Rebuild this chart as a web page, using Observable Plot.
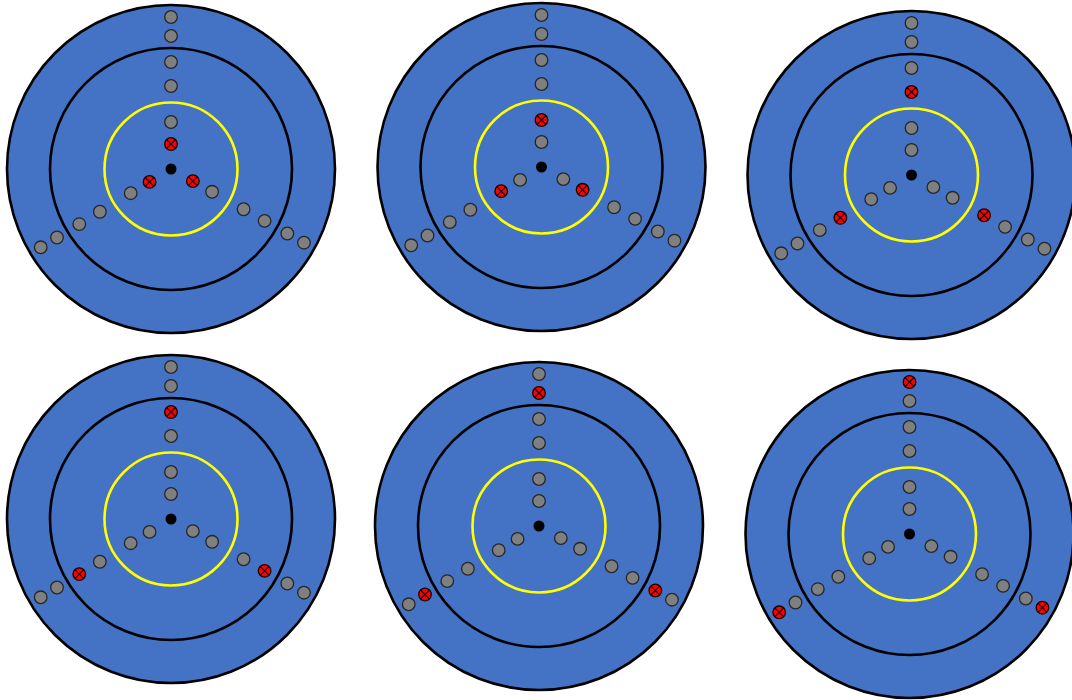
<!DOCTYPE html>
<html>
<head>
<meta charset="utf-8">
<script src="https://cdn.jsdelivr.net/npm/d3@7"></script>
<script src="https://cdn.jsdelivr.net/npm/@observablehq/plot@0.6"></script>
<style>
  html, body { margin: 0; padding: 0; background: #ffffff; }
  svg { display: block; }
</style>
</head>
<body>
<div id="chart"></div>
<script>
// Six panels (3 columns x 2 rows): centre of each target
const panelIds = [1, 2, 3, 4, 5, 6];
const panelCX = [170.5, 541, 911, 170.5, 538.5, 909];
const panelCY = [168.5, 166.5, 174.5, 518.5, 525.5, 533.5];
// which slot (0 = innermost) is flagged red on every arm of each panel
const redSlot = [0, 1, 2, 3, 4, 5];

// three arms (degrees, counter-clockwise from east)
const armNames = ["top", "lowerLeft", "lowerRight"];
const armAngle = [90, 211, 331];
// six dot slots along each arm (distance from centre)
const slotRadius = [25, 47, 83, 107, 133, 152];

// rings
const ringNames = ["outer", "middle", "yellow"];
const ringRadius = [164, 121, 66.5];

const panels = panelIds.map((id, i) => ({id, cx: panelCX[i], cy: panelCY[i], red: redSlot[i]}));

const dots = [];
panels.forEach(p => {
  armAngle.forEach((a, ai) => {
    slotRadius.forEach((r, si) => {
      const rad = a * Math.PI / 180;
      dots.push({
        panel: p.id, arm: armNames[ai], slot: si,
        x: p.cx + r * Math.cos(rad),
        y: p.cy - r * Math.sin(rad),
        red: si === p.red
      });
    });
  });
});
const grayDots = dots.filter(d => !d.red);
const redDots = dots.filter(d => d.red);

const W = 1072, H = 700;
const chart = Plot.plot({
  width: W,
  height: H,
  margin: 0,
  x: {domain: [0, W], range: [0, W], axis: null},
  y: {domain: [0, H], range: [0, H], axis: null},
  r: {type: "identity"},
  marks: [
    Plot.dot(panels, {x: "cx", y: "cy", r: () => ringRadius[0], fill: "#4472C4", stroke: "#000000", strokeWidth: 2.6}),
    Plot.dot(panels, {x: "cx", y: "cy", r: () => ringRadius[1], fill: "none", stroke: "#000000", strokeWidth: 2.6}),
    Plot.dot(panels, {x: "cx", y: "cy", r: () => ringRadius[2], fill: "none", stroke: "#FFFF00", strokeWidth: 2.6}),
    Plot.dot(panels, {x: "cx", y: "cy", r: 5.5, fill: "#000000", stroke: "none"}),
    Plot.dot(grayDots, {x: "x", y: "y", r: 6.3, fill: "#7f7f7f", stroke: "#262626", strokeWidth: 1.3}),
    Plot.dot(redDots, {x: "x", y: "y", r: 6.3, fill: "#ff0000", stroke: "#1a0000", strokeWidth: 1.3}),
    Plot.dot(redDots, {x: "x", y: "y", r: 4.2, symbol: "times", stroke: "#1a0000", strokeWidth: 1.2})
  ]
});
document.getElementById("chart").appendChild(chart);
</script>
</body>
</html>
